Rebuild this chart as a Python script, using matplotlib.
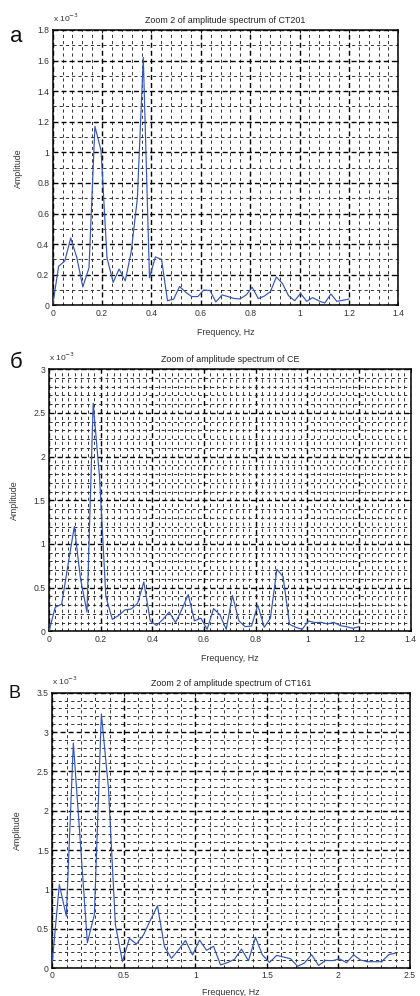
import matplotlib
matplotlib.use("Agg")
import matplotlib.pyplot as plt
from matplotlib.ticker import MultipleLocator, FuncFormatter

plt.rcParams['font.family'] = ['Liberation Sans', 'DejaVu Sans']

# ---------------- data (amplitudes in units of 1e-3) ----------------
freq_ab = [0.000, 0.024, 0.049, 0.073, 0.098, 0.122, 0.147, 0.171, 0.196, 0.220,
           0.245, 0.269, 0.294, 0.318, 0.343, 0.367, 0.392, 0.416, 0.441, 0.465,
           0.490, 0.514, 0.539, 0.563, 0.588, 0.612, 0.637, 0.661, 0.686, 0.710,
           0.735, 0.759, 0.784, 0.808, 0.833, 0.857, 0.882, 0.906, 0.931, 0.955,
           0.980, 1.004, 1.029, 1.053, 1.078, 1.102, 1.127, 1.151, 1.176, 1.200]

amp_a = [0.000, 0.255, 0.290, 0.440, 0.310, 0.120, 0.245, 1.170, 1.010, 0.310,
         0.150, 0.237, 0.160, 0.350, 0.700, 1.620, 0.180, 0.316, 0.300, 0.030,
         0.040, 0.123, 0.085, 0.057, 0.057, 0.100, 0.097, 0.022, 0.068, 0.057,
         0.044, 0.042, 0.068, 0.118, 0.044, 0.060, 0.090, 0.185, 0.142, 0.064,
         0.030, 0.078, 0.026, 0.050, 0.029, 0.015, 0.074, 0.026, 0.033, 0.041]

amp_b = [0.000, 0.275, 0.310, 0.750, 1.200, 0.600, 0.220, 2.610, 1.750, 0.400,
         0.137, 0.180, 0.245, 0.255, 0.320, 0.565, 0.118, 0.067, 0.137, 0.220,
         0.100, 0.250, 0.420, 0.120, 0.150, 0.023, 0.260, 0.190, 0.023, 0.410,
         0.120, 0.053, 0.060, 0.300, 0.046, 0.150, 0.710, 0.626, 0.080, 0.046,
         0.023, 0.118, 0.100, 0.103, 0.084, 0.103, 0.065, 0.053, 0.034, 0.053]

freq_c = [0.000, 0.049, 0.098, 0.147, 0.196, 0.245, 0.294, 0.343, 0.392, 0.441,
          0.490, 0.539, 0.588, 0.637, 0.686, 0.735, 0.784, 0.833, 0.882, 0.931,
          0.980, 1.029, 1.078, 1.127, 1.176, 1.224, 1.273, 1.322, 1.371, 1.420,
          1.469, 1.518, 1.567, 1.616, 1.665, 1.714, 1.763, 1.812, 1.861, 1.910,
          1.959, 2.008, 2.057, 2.106, 2.155, 2.204, 2.253, 2.302, 2.351, 2.400]

amp_c = [0.080, 1.060, 0.660, 2.860, 1.600, 0.320, 0.680, 3.230, 2.300, 0.550,
         0.082, 0.377, 0.305, 0.420, 0.610, 0.790, 0.270, 0.123, 0.230, 0.350,
         0.165, 0.355, 0.225, 0.275, 0.039, 0.068, 0.110, 0.240, 0.092, 0.390,
         0.165, 0.070, 0.160, 0.140, 0.118, 0.022, 0.064, 0.170, 0.032, 0.096,
         0.094, 0.115, 0.068, 0.168, 0.100, 0.080, 0.080, 0.080, 0.170, 0.190]

titles = ["Zoom 2 of amplitude spectrum of CT201",
          "Zoom of amplitude spectrum of CE",
          "Zoom 2 of amplitude spectrum of CT161"]
letters = ["a", "б", "В"]
xlabel = "Frequency, Hz"
ylabel = "Amplitude"

W, H = 420, 996
fig = plt.figure(figsize=(W / 100, H / 100), dpi=100)

def px_axes(l, r, t, b):
    return fig.add_axes([l / W, 1 - b / H, (r - l) / W, (b - t) / H])

panels = [
    dict(box=(52.7, 398.3, 30.0, 305.3), x=freq_ab, y=amp_a, xlim=1.4, ylim=1.8,
         xmaj=0.2, xmin=0.04, ymaj=0.2, ymin=0.1, letter_xy=(16, 37),
         ylab_x=22.7, lsize=16, xlab_off=23),
    dict(box=(49.0, 410.7, 369.3, 631.3), x=freq_ab, y=amp_b, xlim=1.4, ylim=3.0,
         xmaj=0.2, xmin=0.025, ymaj=0.5, ymin=0.1, letter_xy=(16, 363),
         ylab_x=18.5, lsize=16, xlab_off=23),
    dict(box=(52.3, 410.0, 692.7, 968.0), x=freq_c, y=amp_c, xlim=2.5, ylim=3.5,
         xmaj=0.5, xmin=0.1, ymaj=0.5, ymin=0.1, letter_xy=(15, 694),
         ylab_x=21.7, lsize=13, xlab_off=20),
]

fmt = FuncFormatter(lambda v, p: ("%g" % round(v, 6)))

for i, p in enumerate(panels):
    l, r, t, b = p['box']
    ax = px_axes(l, r, t, b)
    ax.set_axisbelow(True)
    ax.plot(p['x'], p['y'], color='#3556b8', lw=0.85, zorder=3)
    ax.set_xlim(0, p['xlim'])
    ax.set_ylim(0, p['ylim'])
    ax.xaxis.set_major_locator(MultipleLocator(p['xmaj']))
    ax.xaxis.set_minor_locator(MultipleLocator(p['xmin']))
    ax.yaxis.set_major_locator(MultipleLocator(p['ymaj']))
    ax.yaxis.set_minor_locator(MultipleLocator(p['ymin']))
    ax.xaxis.set_major_formatter(fmt)
    ax.yaxis.set_major_formatter(fmt)
    ax.grid(which='minor', color='#333333', ls=(0, (3.2, 3.2)), lw=0.7)
    ax.grid(which='major', color='black', ls=(0, (3.6, 2.2)), lw=1.0)
    ax.tick_params(which='major', direction='in', length=2.5, width=0.6,
                   labelsize=6.2, pad=2.5, top=True, right=True,
                   labelcolor='#333333')
    ax.tick_params(which='minor', length=0)
    for s in ax.spines.values():
        s.set_linewidth(1.1)
        s.set_color('black')
    ax.set_title(titles[i], fontsize=6.4, pad=5, color='#222222')
    ax.set_xlabel(xlabel, fontsize=6.4, color='#333333')
    ax.xaxis.set_label_coords(0.5, -p['xlab_off'] / (b - t))
    ax.set_ylabel(ylabel, fontsize=6.4, color='#333333')
    ax.yaxis.set_label_coords((p['ylab_x'] - l) / (r - l), 0.5)
    ax.text(0.0, 1.0 + 6.0 / (b - t), "x 10$^{-3}$", transform=ax.transAxes,
            fontsize=6.0, ha='left', va='bottom', color='#333333')
    lx, ly = p['letter_xy']
    fig.text(lx / W, 1 - ly / H, letters[i], fontsize=p['lsize'], ha='center',
             va='center', color='#111111')

fig.savefig("out.png", dpi=100)
